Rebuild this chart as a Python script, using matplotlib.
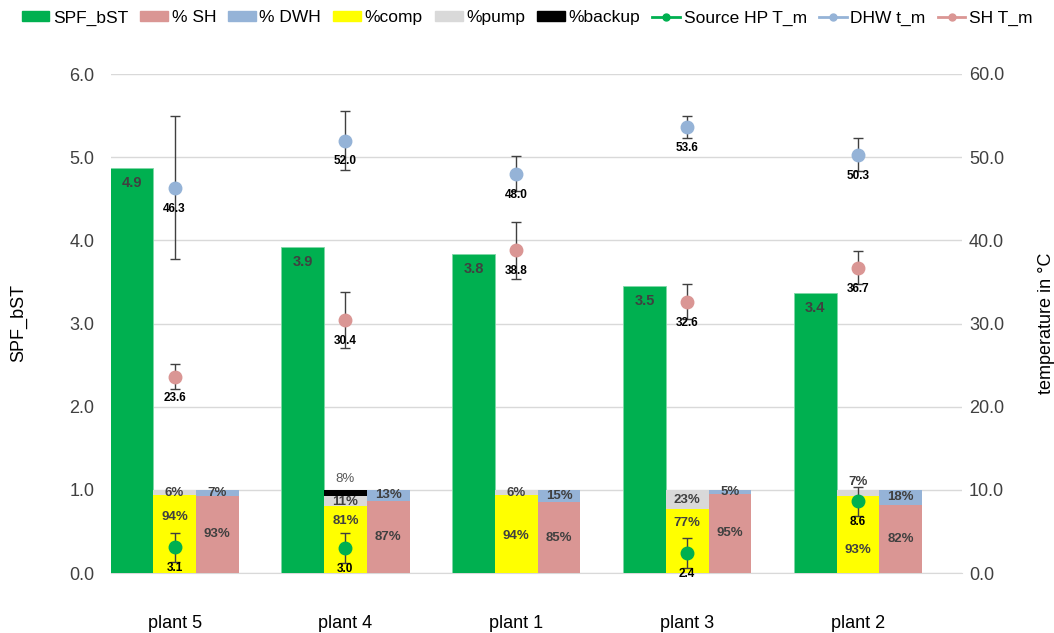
import numpy as np
import matplotlib as mpl
mpl.use('Agg')
import matplotlib.pyplot as plt
from matplotlib.patches import Patch
from matplotlib.lines import Line2D

plt.rcParams['font.family'] = ['Liberation Sans', 'DejaVu Sans']

# plants and measured values
plants = ['plant 5', 'plant 4', 'plant 1', 'plant 3', 'plant 2']
spf = [4.87, 3.92, 3.84, 3.45, 3.37]

# electricity share (compressor / pumps / backup heater)
p_comp = [0.94, 0.81, 0.94, 0.77, 0.93]
p_pump = [0.06, 0.11, 0.06, 0.23, 0.07]
p_backup = [0.0, 0.08, 0.0, 0.0, 0.0]

# heat share (space heating / domestic hot water)
p_sh = [0.93, 0.87, 0.85, 0.95, 0.82]
p_dwh = [0.07, 0.13, 0.15, 0.05, 0.18]

# mean temperatures and their spread (°C)
t_src = [3.1, 3.0, np.nan, 2.4, 8.6]
t_src_err = [1.75, 1.8, np.nan, 1.8, 1.7]
t_dhw = [46.3, 52.0, 48.0, 53.6, 50.3]
t_dhw_err = [8.6, 3.6, 2.1, 1.3, 2.0]
t_sh = [23.6, 30.4, 38.8, 32.6, 36.7]
t_sh_err = [1.5, 3.4, 3.4, 2.1, 2.0]

# label heights inside the stacked bars
comp_lab_y = [0.67, 0.62, 0.45, 0.60, 0.28]
pump_lab_y = [0.96, 0.855, 0.96, 0.875, 1.09]

c_green = '#00B050'
c_pink = '#DA9694'
c_blue = '#95B3D7'
c_yellow = '#FFFF00'
c_grey = '#D9D9D9'
c_txt = '#404040'

fig = plt.figure(figsize=(10.54, 6.33), dpi=100, facecolor='w')
ax = fig.add_axes([111/1054., 1-573/633., 851/1054., 499/633.])

x = np.arange(len(plants))
w = 0.25

ax.bar(x - w, spf, w, color=c_green, edgecolor='#7fd8a7', linewidth=0.6, zorder=3)
ax.bar(x, p_comp, w, color=c_yellow, zorder=3)
b_p = np.array(p_comp)
ax.bar(x, p_pump, w, bottom=b_p, color=c_grey, zorder=3)
b_b = b_p + np.array(p_pump)
ax.bar(x, p_backup, w, bottom=b_b, color='black', zorder=3)
ax.bar(x + w, p_sh, w, color=c_pink, zorder=3)
ax.bar(x + w, p_dwh, w, bottom=p_sh, color=c_blue, zorder=3)

fnt_pc = dict(fontsize=9.5, fontweight='bold', color=c_txt, ha='center', va='center', zorder=5)
for i in range(len(plants)):
    ax.annotate('%.1f' % spf[i], (x[i] - w, spf[i]), xytext=(0, -11), textcoords='offset points',
                fontsize=10.5, fontweight='bold', color=c_txt, ha='center', va='center', zorder=5)
    ax.text(x[i], comp_lab_y[i], '%d%%' % round(p_comp[i]*100), **fnt_pc)
    ax.text(x[i], pump_lab_y[i], '%d%%' % round(p_pump[i]*100), **fnt_pc)
    if p_backup[i] > 0:
        ax.text(x[i], 1.0 + 0.13, '%d%%' % round(p_backup[i]*100), fontsize=9.5,
                color='#595959', ha='center', va='center', zorder=5)
    ax.text(x[i] + w, p_sh[i]/2., '%d%%' % round(p_sh[i]*100), **fnt_pc)
    ax.text(x[i] + w, p_sh[i] + p_dwh[i]/2., '%d%%' % round(p_dwh[i]*100), **fnt_pc)

ax.set_xlim(-0.372, 4.608)
ax.set_ylim(0, 6)
ax.set_yticks(np.arange(0, 6.1, 1.0))
ax.set_yticklabels(['%.1f' % v for v in np.arange(0, 6.1, 1.0)], fontsize=13, color='#404040')
ax.set_xticks(x)
ax.set_xticklabels(plants, fontsize=13)
ax.tick_params(axis='x', length=0, pad=30)
ax.tick_params(axis='y', length=0, pad=12)
ax.grid(axis='y', color='#D9D9D9', linewidth=1, zorder=0)
for s in ['top', 'right', 'left']:
    ax.spines[s].set_visible(False)
ax.spines['bottom'].set_color('#D9D9D9')
ax.set_axisbelow(True)
ax.set_ylabel('SPF_bST', fontsize=13, labelpad=30)

# temperatures on the secondary axis
ax2 = ax.twinx()
ax2.set_ylim(0, 60)
ax2.set_yticks(np.arange(0, 61, 10))
ax2.set_yticklabels(['%.1f' % v for v in np.arange(0, 61, 10)], fontsize=13, color='#404040')
ax2.tick_params(axis='y', length=0, pad=5)
for s in ['top', 'right', 'left', 'bottom']:
    ax2.spines[s].set_visible(False)
ax2.set_ylabel('temperature in °C', fontsize=13, labelpad=24)

ekw = dict(fmt='o', markersize=9, ecolor='#404040', elinewidth=1, capsize=3.5, capthick=1, zorder=6)
ax2.errorbar(x, t_dhw, yerr=t_dhw_err, color=c_blue, **ekw)
ax2.errorbar(x, t_sh, yerr=t_sh_err, color=c_pink, **ekw)
ax2.errorbar(x, t_src, yerr=t_src_err, color=c_green, **ekw)

fnt_t = dict(fontsize=8.5, fontweight='bold', color='black', ha='center', va='center', zorder=7)
for i in range(len(plants)):
    for ser in (t_dhw, t_sh, t_src):
        if not np.isnan(ser[i]):
            ax2.annotate('%.1f' % ser[i], (x[i], ser[i]), xytext=(0, -15),
                         textcoords='offset points', **fnt_t)

handles = [Patch(color=c_green, label='SPF_bST'),
           Patch(color=c_pink, label='% SH'),
           Patch(color=c_blue, label='% DWH'),
           Patch(color=c_yellow, label='%comp'),
           Patch(color=c_grey, label='%pump'),
           Patch(color='black', label='%backup'),
           Line2D([], [], color=c_green, marker='o', markersize=5, lw=2, label='Source HP T_m'),
           Line2D([], [], color=c_blue, marker='o', markersize=5, lw=2, label='DHW t_m'),
           Line2D([], [], color=c_pink, marker='o', markersize=5, lw=2, label='SH T_m')]
fig.legend(handles=handles, loc='center', bbox_to_anchor=(0.5, 1-18/633.), ncol=9,
           frameon=False, fontsize=12.5, handlelength=1.6, handleheight=0.5,
           columnspacing=0.7, handletextpad=0.2)

plt.savefig('out.png', dpi=100, facecolor='w')
plt.close(fig)
